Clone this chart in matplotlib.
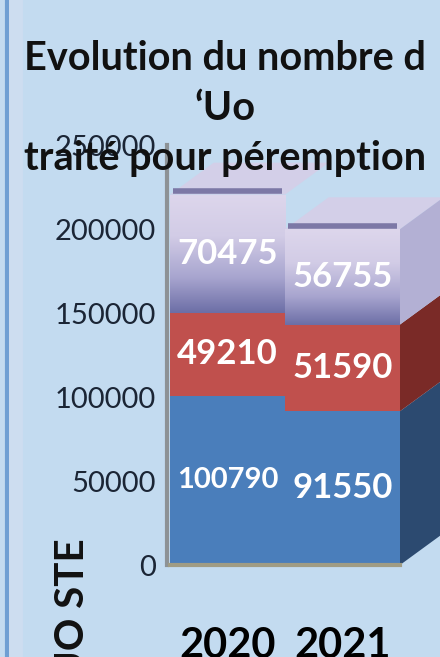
import numpy as np
import matplotlib.pyplot as plt
from matplotlib.colors import LinearSegmentedColormap
from matplotlib.patches import Polygon
from matplotlib.lines import Line2D

plt.rcParams['font.family'] = ['Lato', 'DejaVu Sans']

# données
annees = ['2020', '2021']
bas = [100790, 91550]
milieu = [49210, 51590]
haut = [70475, 56755]
yticks = [0, 50000, 100000, 150000, 200000, 250000]

bg = '#c3dbf0'
fig = plt.figure(figsize=(4.4, 6.57), dpi=100, facecolor=bg)
ax = fig.add_axes([170 / 440, 92 / 657, 230 / 440, 420 / 657])
ax.set_facecolor('none')

x = np.arange(len(annees))
bas_a = np.array(bas)
mil_a = np.array(milieu)
haut_a = np.array(haut)
b1 = ax.bar(x, bas_a, width=1.0, color='#4a7ebb', zorder=2)
b2 = ax.bar(x, mil_a, bottom=bas_a, width=1.0, color='#c0504d', zorder=2)
b3 = ax.bar(x, haut_a, bottom=bas_a + mil_a, width=1.0, color='#b9b5d8', zorder=2)

# dégradé violet
cmap = LinearSegmentedColormap.from_list(
    'violet', [(0, '#6c6ea6'), (0.3, '#a8a5cf'), (0.65, '#d2cce6'), (1, '#ddd6ec')])
grad = np.linspace(0, 1, 256).reshape(-1, 1)
for r in b3:
    im = ax.imshow(grad, extent=[r.get_x(), r.get_x() + r.get_width(),
                                 r.get_y(), r.get_y() + r.get_height()],
                   aspect='auto', cmap=cmap, origin='lower', zorder=2.5)
    im.set_clip_path(r)

# effet 3D : faces latérales et dessus
dx, dy = 0.38, 19000
cols_side = ['#2c4a70', '#7a2a27', '#b3b0d4']
last = len(x) - 1
for bars, c in zip([b1, b2, b3], cols_side):
    r = bars[last]
    x1 = r.get_x() + r.get_width()
    y0, y1 = r.get_y(), r.get_y() + r.get_height()
    ax.add_patch(Polygon([(x1, y0), (x1 + dx, y0 + dy), (x1 + dx, y1 + dy), (x1, y1)],
                         closed=True, color=c, clip_on=False, zorder=1.5, lw=0))
for r in b3:
    x0, x1 = r.get_x(), r.get_x() + r.get_width()
    top = r.get_y() + r.get_height()
    ax.add_patch(Polygon([(x0, top), (x1, top), (x1 + dx, top + dy), (x0 + dx, top + dy)],
                         closed=True, color='#d3cfe8', clip_on=False, zorder=1.4, lw=0))
    ax.plot([x0 + 0.03, x1 - 0.03], [top + 2000, top + 2000], lw=4, color='#7c78a6',
            solid_capstyle='butt', zorder=3, clip_on=False)

# étiquettes
for bars, vals in zip([b1, b2, b3], [bas, milieu, haut]):
    for r, v in zip(bars, vals):
        s = str(v)
        ax.text(r.get_x() + r.get_width() / 2, r.get_y() + r.get_height() / 2, s,
                ha='center', va='center', color='white', fontweight='bold',
                fontsize=25 if len(s) <= 5 else 21, zorder=4)

ax.set_xlim(-0.5, 1.5)
ax.set_ylim(0, 250000)
ax.set_yticks(yticks)
ax.set_yticklabels([str(t) for t in yticks])
ax.set_xticks(x)
ax.set_xticklabels(annees, fontsize=30, fontweight='bold')
ax.tick_params(axis='y', length=0, labelsize=21, labelcolor='#1b2535', pad=8)
ax.tick_params(axis='x', length=0, pad=45)
for s in ['top', 'right']:
    ax.spines[s].set_visible(False)
ax.spines['left'].set_color('#8d9296')
ax.spines['left'].set_linewidth(3)
ax.spines['left'].set_position(('outward', 2))
ax.spines['bottom'].set_color('#a09c84')
ax.spines['bottom'].set_linewidth(3)

fig.text(0.511, 1 - 40 / 657, "Evolution du nombre d\n‘Uo\ntraité pour péremption",
         ha='center', va='top', fontsize=28.5, fontweight='bold', color='#111111',
         multialignment='center', linespacing=1.44)
fig.text(72 / 440, 1 - 538 / 657, 'UO STE', rotation=90, ha='center', va='top',
         fontsize=29, fontweight='bold', color='#111111')

fig.add_artist(Line2D([7 / 440, 7 / 440], [0, 1], transform=fig.transFigure,
                      color='#6f9fd3', lw=3))
fig.add_artist(Line2D([16 / 440, 16 / 440], [0, 1], transform=fig.transFigure,
                      color='#cdddf0', lw=10))

fig.savefig('out.png', dpi=100, facecolor=bg)
